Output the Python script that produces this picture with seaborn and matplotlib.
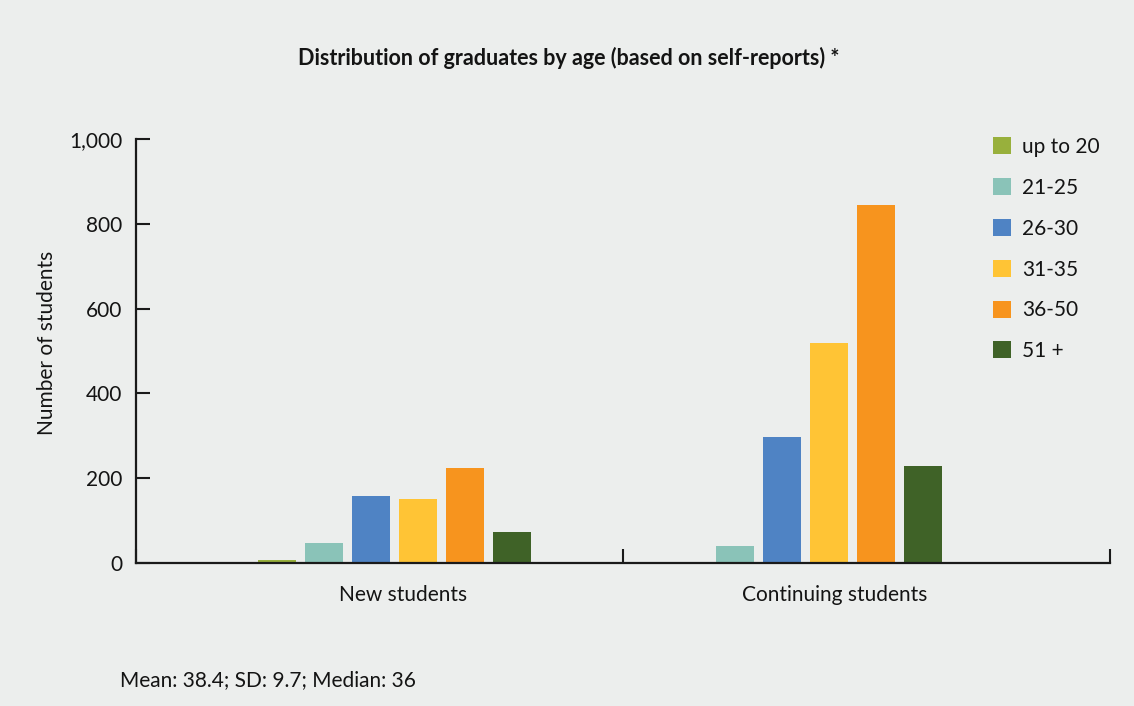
import matplotlib
matplotlib.use("Agg")
import matplotlib.pyplot as plt
import seaborn as sns
import pandas as pd

categories = ["New students", "Continuing students"]
age_groups = ["up to 20", "21-25", "26-30", "31-35", "36-50", "51 +"]
new_students = [7, 47, 157, 151, 224, 73]
continuing_students = [0, 40, 297, 519, 845, 229]
colors = ["#98B03C", "#8AC3B8", "#4F83C4", "#FFC435", "#F7941E", "#3F6227"]
yticks = [0, 200, 400, 600, 800, 1000]
ytick_labels = ["0", "200", "400", "600", "800", "1,000"]
title = "Distribution of graduates by age (based on self-reports) *"
footnote = "Mean: 38.4; SD: 9.7; Median: 36"
ylabel = "Number of students"

rows = []
for cat, vals in zip(categories, [new_students, continuing_students]):
    for age, v in zip(age_groups, vals):
        rows.append({"category": cat, "age": age, "value": v})
df = pd.DataFrame(rows)

bg = "#ECEEED"
ink = "#141414"
sns.set_theme(style="white")
plt.rcParams['font.family'] = ['Lato', 'DejaVu Sans']
plt.rcParams['text.color'] = ink
plt.rcParams['axes.labelcolor'] = ink
plt.rcParams['xtick.color'] = ink
plt.rcParams['ytick.color'] = ink

W, H = 1134, 706
fig = plt.figure(figsize=(W / 100, H / 100), dpi=100, facecolor=bg)
ax = fig.add_axes([136 / W, 1 - 563 / H, (1110 - 136) / W, (563 - 139) / H])
ax.set_facecolor(bg)

sns.barplot(data=df, x="category", y="value", hue="age", order=categories,
            hue_order=age_groups, palette=colors, width=0.686, gap=0.19,
            saturation=1, linewidth=0, ax=ax, errorbar=None)

handles, labels = ax.get_legend_handles_labels()
if ax.get_legend() is not None:
    ax.get_legend().remove()

ax.set_xlim(-0.630, 1.740)
ax.set_ylim(0, 1000)
ax.set_yticks(yticks)
ax.set_yticklabels(ytick_labels)
# category labels (tick marks hidden), nudged to where the reference centres them
ax.set_xticks([0.02, 1.07])
ax.set_xticklabels(categories)
ax.set_xticks([-0.630, 0.555, 1.740], minor=True)

for s in ["top", "right"]:
    ax.spines[s].set_visible(False)
for s in ["left", "bottom"]:
    ax.spines[s].set_linewidth(1.6)
    ax.spines[s].set_color("#1a1a1a")

ax.tick_params(axis="y", direction="in", length=10, width=1.5, color="#1a1a1a",
               labelsize=15, pad=10, left=True, labelcolor=ink)
ax.tick_params(axis="x", which="major", length=0, labelsize=15, pad=16,
               labelcolor=ink)
ax.tick_params(axis="x", which="minor", direction="in", length=10, width=1.5,
               color="#1a1a1a", bottom=True)

ax.set_xlabel("")
ax.set_ylabel(ylabel, fontsize=15)
ax.yaxis.set_label_coords(-0.081, 0.518)

fig.text(569 / W, 1 - 58 / H, title, ha="center", va="center", fontsize=15.5,
         fontweight="bold")
fig.text(120 / W, 1 - 680 / H, footnote, ha="left", va="center", fontsize=15)

fig.legend(handles, labels, loc="upper left",
           bbox_to_anchor=(993 / W, 1 - 137 / H), frameon=False,
           fontsize=15, handlelength=0.88, handleheight=0.88,
           labelspacing=1.0, handletextpad=0.5, borderaxespad=0,
           borderpad=0)

fig.savefig("out.png", dpi=100, facecolor=bg)
